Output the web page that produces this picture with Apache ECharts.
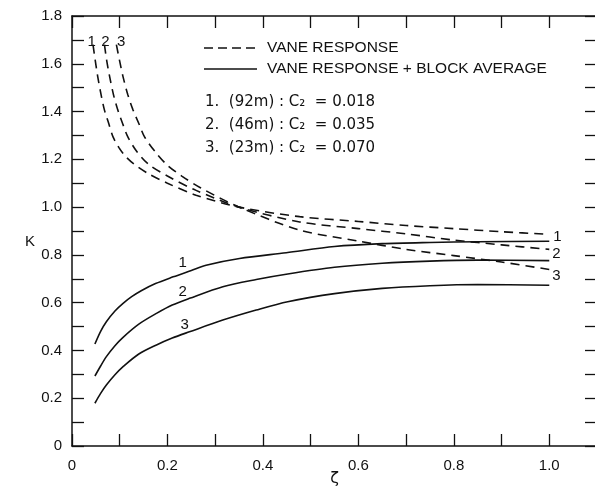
<!DOCTYPE html>
<html><head><meta charset="utf-8">
<script src="https://cdn.jsdelivr.net/npm/echarts@6/dist/echarts.min.js"></script>
<style>html,body{margin:0;padding:0;background:#fff}#c{width:595px;height:490px}</style>
</head><body><div id="c"></div>
<script>
// ---- tick labels ----
const xTickLabels = ['0', '0.2', '0.4', '0.6', '0.8', '1.0'];
const yTickLabels = ['0', '0.2', '0.4', '0.6', '0.8', '1.0', '1.2', '1.4', '1.6', '1.8'];

// ---- vane response (dashed) ----
const dashed1Z = [0.044, 0.049, 0.054, 0.061, 0.068, 0.077, 0.086, 0.098, 0.111, 0.13, 0.16, 0.2, 0.26, 0.35, 0.477, 0.6, 0.7, 0.8, 0.9, 1.0];
const dashed1K = [1.68, 1.61, 1.545, 1.47, 1.406, 1.35, 1.294, 1.25, 1.215, 1.18, 1.14, 1.1, 1.05, 1.0, 0.96, 0.94, 0.923, 0.91, 0.897, 0.886];
const dashed2Z = [0.068, 0.073, 0.079, 0.087, 0.096, 0.106, 0.117, 0.135, 0.16, 0.2, 0.26, 0.35, 0.477, 0.6, 0.7, 0.8, 0.9, 1.0];
const dashed2K = [1.68, 1.61, 1.545, 1.47, 1.406, 1.35, 1.294, 1.235, 1.18, 1.13, 1.07, 1.0, 0.938, 0.91, 0.888, 0.862, 0.842, 0.823];
const dashed3Z = [0.093, 0.1, 0.107, 0.117, 0.128, 0.14, 0.152, 0.177, 0.2, 0.23, 0.27, 0.35, 0.477, 0.6, 0.7, 0.8, 0.9, 1.0];
const dashed3K = [1.68, 1.61, 1.545, 1.47, 1.406, 1.35, 1.294, 1.225, 1.175, 1.13, 1.08, 1.0, 0.904, 0.858, 0.823, 0.797, 0.77, 0.739];

// ---- vane response + block average (solid) ----
const solid1Z = [0.048, 0.06, 0.072, 0.09, 0.107, 0.125, 0.145, 0.175, 0.212, 0.25, 0.281, 0.351, 0.449, 0.55, 0.65, 0.75, 0.85, 1.0];
const solid1K = [0.427, 0.48, 0.52, 0.565, 0.597, 0.625, 0.65, 0.68, 0.708, 0.735, 0.757, 0.785, 0.809, 0.835, 0.847, 0.852, 0.855, 0.857];
const solid2Z = [0.048, 0.06, 0.072, 0.09, 0.107, 0.14, 0.177, 0.21, 0.246, 0.316, 0.386, 0.452, 0.55, 0.65, 0.75, 0.85, 1.0];
const solid2K = [0.293, 0.335, 0.374, 0.42, 0.455, 0.51, 0.555, 0.59, 0.618, 0.667, 0.697, 0.72, 0.748, 0.765, 0.774, 0.778, 0.776];
const solid3Z = [0.048, 0.06, 0.072, 0.09, 0.107, 0.14, 0.177, 0.21, 0.246, 0.316, 0.386, 0.452, 0.55, 0.65, 0.75, 0.85, 1.0];
const solid3K = [0.179, 0.22, 0.255, 0.298, 0.332, 0.385, 0.423, 0.452, 0.478, 0.527, 0.569, 0.604, 0.638, 0.66, 0.671, 0.676, 0.673];

// ---- curve number labels (data coordinates) ----
const curveLabelText = ['1', '2', '3', '1', '2', '3', '1', '2', '3'];
const curveLabelZ = [0.041, 0.07, 0.103, 1.017, 1.015, 1.015, 0.232, 0.232, 0.236];
const curveLabelK = [1.69, 1.69, 1.69, 0.874, 0.803, 0.711, 0.766, 0.646, 0.506];

// ---- legend text ----
const legendLineText = ['VANE RESPONSE', 'VANE RESPONSE + BLOCK AVERAGE'];
const legendCaseText = ['1.  (92m) : C\u2082  = 0.018', '2.  (46m) : C\u2082  = 0.035', '3.  (23m) : C\u2082  = 0.070'];

const INK = '#111';
const FONT = '"Liberation Sans", Arial, sans-serif';
const FONT2 = '"DejaVu Sans", sans-serif';
const zip = (a, b) => a.map((v, i) => [v, b[i]]);

const chart = echarts.init(document.getElementById('c'), null, {renderer: 'canvas'});

function axisCommon(pos, showLabels, labels, showLine) {
  return {
    type: 'value', position: pos,
    axisLine: {show: showLine !== false, onZero: false, lineStyle: {color: INK, width: 1.5}},
    axisTick: {show: true, inside: true, length: 12, lineStyle: {color: INK, width: 1.3}},
    splitLine: {show: false},
    axisLabel: showLabels ? {
      show: true, color: INK, fontSize: 15, fontFamily: FONT,
      formatter: v => { const s = Math.abs(v) < 1e-9 ? '0' : v.toFixed(1); return labels.includes(s) ? s : ''; }
    } : {show: false}
  };
}

const lineSeries = (data, dashed) => ({
  type: 'line', data, showSymbol: false, symbol: 'none', smooth: 0.3,
  lineStyle: {color: INK, width: 1.6, type: dashed ? [9, 6] : 'solid'},
  silent: true, animation: false
});

chart.setOption({
  animation: false,
  backgroundColor: '#fff',
  grid: {left: 72, top: 16, right: -2, bottom: 44, containLabel: false, outerBoundsMode: 'none'},
  xAxis: [
    Object.assign(axisCommon('bottom', true, xTickLabels), {
      min: 0, max: 1.1, interval: 0.1,
      name: '\u03B6', nameLocation: 'middle', nameGap: 25, nameMoveOverlap: false,
      nameTextStyle: {color: INK, fontSize: 16, fontFamily: FONT2},
      axisLabel: Object.assign(axisCommon('bottom', true, xTickLabels).axisLabel, {margin: 12})
    }),
    Object.assign(axisCommon('top', false), {min: 0, max: 1.1, interval: 0.1})
  ],
  yAxis: [
    Object.assign(axisCommon('left', true, yTickLabels), {
      min: 0, max: 1.8, interval: 0.1,
      name: 'K', nameLocation: 'middle', nameRotate: 0, nameGap: 37, nameMoveOverlap: false,
      nameTextStyle: {color: INK, fontSize: 15, fontFamily: FONT, verticalAlign: 'top', lineHeight: 22},
      axisLabel: Object.assign(axisCommon('left', true, yTickLabels).axisLabel, {margin: 10})
    }),
    Object.assign(axisCommon('right', false, null, false), {min: 0, max: 1.8, interval: 0.1})
  ],
  series: [
    lineSeries(zip(dashed1Z, dashed1K), true),
    lineSeries(zip(dashed2Z, dashed2K), true),
    lineSeries(zip(dashed3Z, dashed3K), true),
    lineSeries(zip(solid1Z, solid1K), false),
    lineSeries(zip(solid2Z, solid2K), false),
    lineSeries(zip(solid3Z, solid3K), false)
  ]
});

// annotations: legend + curve numbers
const g = [];
g.push({type: 'line', shape: {x1: 204, y1: 48, x2: 257, y2: 48}, style: {stroke: INK, lineWidth: 1.5, lineDash: [9, 5]}, silent: true});
g.push({type: 'line', shape: {x1: 204, y1: 69, x2: 257, y2: 69}, style: {stroke: INK, lineWidth: 1.5}, silent: true});
legendLineText.forEach((t, i) => g.push({type: 'text', x: 267, y: [48, 69][i], style: {text: t, font: '15.5px ' + FONT, fill: INK, verticalAlign: 'middle'}, silent: true}));
legendCaseText.forEach((t, i) => g.push({type: 'text', x: 205, y: [102, 125, 148][i], style: {text: t, font: '15px ' + FONT2, fill: INK, verticalAlign: 'middle'}, silent: true}));
curveLabelText.forEach((t, i) => {
  const p = chart.convertToPixel({xAxisIndex: 0, yAxisIndex: 0}, [curveLabelZ[i], curveLabelK[i]]);
  g.push({type: 'text', x: p[0], y: p[1], style: {text: t, font: '15px ' + FONT, fill: INK, align: 'center', verticalAlign: 'middle'}, silent: true});
});
chart.setOption({graphic: g});
</script></body></html>
